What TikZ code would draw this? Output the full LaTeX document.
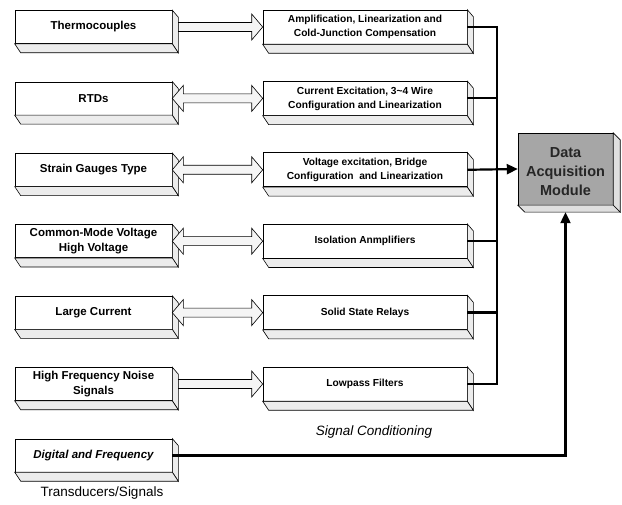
\documentclass[tikz,border=0pt]{standalone}
\usepackage{fontspec}
\setmainfont{Liberation Sans}
\usetikzlibrary{positioning, calc, arrows.meta}

\begin{document}
\begin{tikzpicture}[x=1pt, y=-1pt,
    box/.style={draw, fill=white, line width=0.6pt, align=center, inner sep=1pt,
        font=\bfseries\fontsize{11.5}{15.5}\selectfont, minimum width=157pt, minimum height=33pt},
    cond/.style={box, font=\bfseries\fontsize{10.2}{14}\selectfont, minimum width=204pt, minimum height=34pt},
    daqbox/.style={draw, fill=gray!70, text=black!85, align=center, inner sep=0pt,
        font=\bfseries\fontsize{14.5}{19}\selectfont, minimum width=95pt, minimum height=72pt},
    face/.style={draw, fill=gray!15, line width=0.6pt},
    hollow/.style={draw, fill=gray!8, line width=0.6pt},
    bus/.style={line width=2.2pt},
    feed/.style={bus, -{Triangle[length=11pt, width=10pt]}}
]
    \useasboundingbox (0,0) rectangle (622,505);

    % Sensori e segnali
    \node[box] (thermo)  at (93.5, 27)    {Thermocouples};
    \node[box] (rtd)     at (93.5, 98.4)  {RTDs};
    \node[box] (strain)  at (93.5, 169.8) {Strain Gauges Type};
    \node[box] (cmv)     at (93.5, 241.2) {Common-Mode Voltage\\High Voltage};
    \node[box] (current) at (93.5, 312.6) {Large Current};
    \node[box] (hfn)     at (93.5, 384)   {High Frequency Noise\\Signals};
    \node[box, font=\bfseries\itshape\fontsize{11.5}{15.5}\selectfont] (digital) at (93.5, 455.4) {Digital and Frequency};

    % Condizionamento
    \node[cond] (amp)     at (365, 27)    {Amplification, Linearization and\\Cold-Junction Compensation};
    \node[cond] (excite)  at (365, 98.4)  {Current Excitation, 3\textasciitilde4 Wire\\Configuration and Linearization};
    \node[cond] (bridge)  at (365, 169.8) {Voltage excitation, Bridge\\Configuration\ \ and Linearization};
    \node[cond] (iso)     at (365, 241.2) {Isolation Anmplifiers};
    \node[cond] (relay)   at (365, 312.6) {Solid State Relays};
    \node[cond] (lowpass) at (365, 384)   {Lowpass Filters};

    \node[daqbox] (daq) at (565.5, 169) {\\[-4pt]Data\\Acquisition\\Module};

    % Facce laterali (effetto 3D)
    \foreach \n in {thermo, rtd, strain, cmv, current, hfn, digital, amp, excite, bridge, iso, relay, lowpass} {
        \draw[face] (\n.north east) -- ++(6,7) -- ($(\n.south east)+(6,9)$) -- (\n.south east) -- cycle;
        \draw[face] (\n.south west) -- (\n.south east) -- ++(6,9) -- ($(\n.south west)+(6,9)$) -- cycle;
    }
    \draw[face, fill=gray!25] (daq.north east) -- ++(7,7) -- ($(daq.south east)+(7,7)$) -- (daq.south east) -- cycle;
    \draw[face, fill=gray!25] (daq.south west) -- (daq.south east) -- ++(7,7) -- ($(daq.south west)+(7,7)$) -- cycle;

    % Frecce vuote a doppia punta
    \foreach \a/\b in {rtd/excite, strain/bridge, cmv/iso, current/relay}
        \draw[hollow] (\a.east) -- ++(11,-13) -- ++(0,8.5) -- ($(\b.west)+(-11,-4.5)$) -- ++(0,-8.5)
            -- (\b.west) -- ++(-11,13) -- ++(0,-8.5) -- ($(\a.east)+(11,4.5)$) -- ++(0,8.5) -- cycle;
    % Frecce vuote a punta singola
    \foreach \a/\b in {thermo/amp, hfn/lowpass}
        \draw[hollow] ($(\a.east)+(6,-4.5)$) -- ($(\b.west)+(-11,-4.5)$) -- ++(0,-8.5)
            -- (\b.west) -- ++(-11,13) -- ++(0,-8.5) -- ($(\a.east)+(6,4.5)$) -- cycle;

    % Bus verso il modulo
    \coordinate (busbot) at ($(lowpass.east)+(30,0)$);
    \draw[bus] (amp.east) -| (busbot) -- (lowpass.east);
    \foreach \n in {excite, iso, relay} \draw[bus] (\n.east) -- (\n.east -| busbot);
    \draw[feed] (bridge.east) -- (daq.west);
    \coordinate (daqfoot) at ($(daq.south)+(0,7)$);
    \draw[feed] (digital.east) -| (daqfoot);

    \node[font=\itshape\fontsize{13.5}{16}\selectfont] (condlabel) at (374, 432) {Signal Conditioning};
    \node[font=\fontsize{13.5}{16}\selectfont] (translabel) at (102, 493) {Transducers/Signals};
\end{tikzpicture}
\end{document}
